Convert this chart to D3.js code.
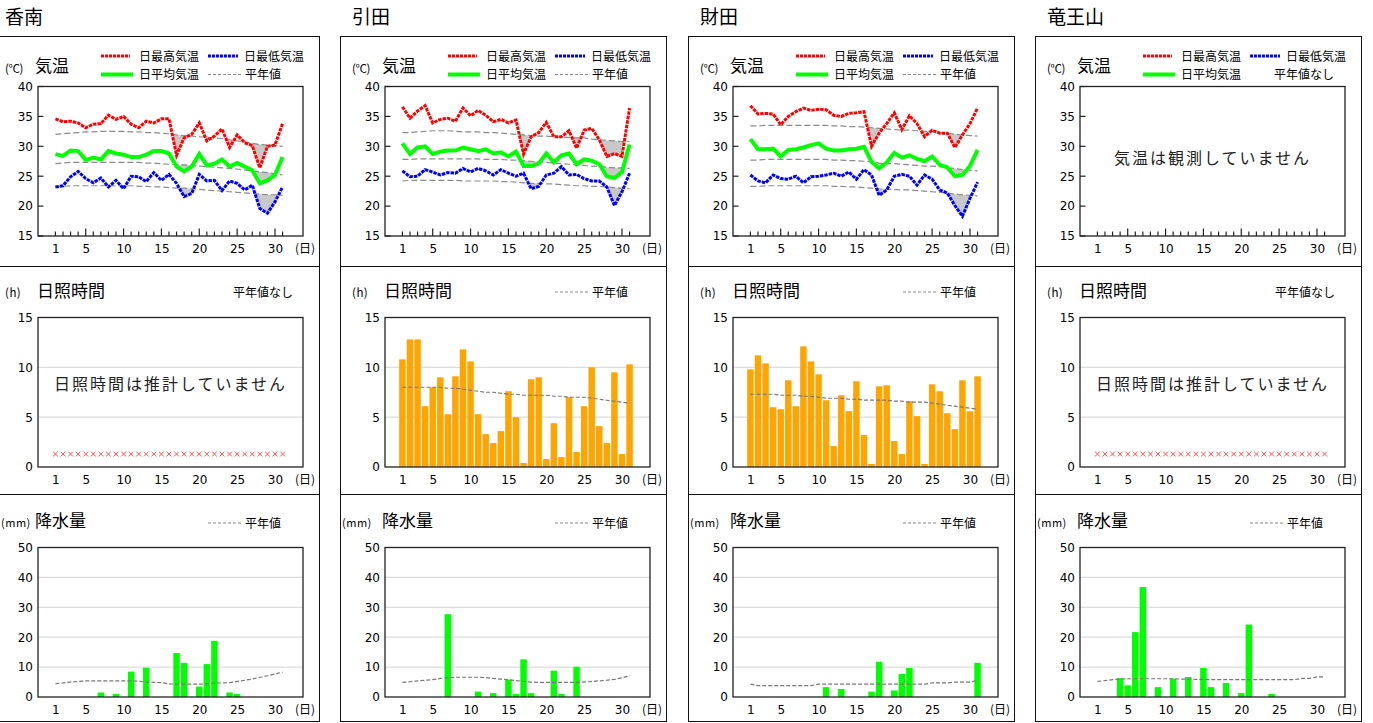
<!DOCTYPE html>
<html><head><meta charset="utf-8">
<script src="https://cdn.jsdelivr.net/npm/d3@7"></script>
<style>body{margin:0;background:#fff;} svg{display:block;}</style>
</head><body>
<svg id="chart" width="1373" height="723"></svg>
<script>
const stationNames = ["香南","引田","財田","竜王山"];
const days = d3.range(1, 32);
const dayTicks = [1,5,10,15,20,25,30];
const tempTicks = [15,20,25,30,35,40];
const sunTicks = [0,5,10,15];
const precipTicks = [0,10,20,30,40,50];

// 香南
const konanMax  = [34.6,34.1,34.2,33.9,33.1,33.7,33.8,35.2,34.5,35.0,33.7,33.1,34.2,33.9,34.6,34.6,28.5,31.4,32.0,33.9,30.9,31.7,32.9,29.8,31.9,30.6,30.1,26.4,30.0,30.2,33.8];
const konanMaxN = [32.0,32.1,32.2,32.3,32.4,32.4,32.5,32.5,32.5,32.5,32.4,32.4,32.3,32.3,32.2,32.1,31.9,31.8,31.7,31.6,31.5,31.4,31.3,31.1,30.9,30.7,30.5,30.3,30.2,30.1,30.0];
const konanAvg  = [28.7,28.4,29.3,29.2,27.7,28.1,27.8,29.2,28.8,28.6,28.2,28.2,28.6,29.2,29.2,28.8,26.6,25.8,26.6,28.7,26.8,27.1,27.8,26.6,27.2,26.6,26.0,23.8,24.3,25.2,28.2];
const konanAvgN = [27.1,27.2,27.3,27.3,27.3,27.3,27.3,27.3,27.3,27.3,27.3,27.3,27.2,27.2,27.1,27.0,26.9,26.9,26.8,26.7,26.6,26.5,26.4,26.3,26.2,26.0,25.9,25.7,25.6,25.4,25.2];
const konanMin  = [23.2,23.4,24.9,25.8,24.6,23.9,24.7,23.2,24.3,22.9,25.0,24.9,24.1,25.6,24.3,25.3,23.8,21.6,22.1,25.3,24.2,24.3,22.6,24.2,23.8,22.7,23.5,19.6,18.8,20.7,23.2];
const konanMinN = [23.2,23.3,23.4,23.4,23.4,23.4,23.4,23.4,23.4,23.4,23.4,23.3,23.3,23.2,23.2,23.1,23.0,23.0,22.9,22.8,22.7,22.6,22.5,22.4,22.3,22.2,22.1,22.0,21.9,21.9,21.8];
const konanPrecip  = [0,0,0,0,0,0,1.5,0,1.0,0,8.5,0,9.8,0,0,0,14.7,11.4,0,3.5,11.0,18.8,0,1.5,1.0,0,0,0,0,0,0];
const konanPrecipN = [4.5,4.7,5.0,5.2,5.4,5.4,5.4,5.4,5.4,5.4,5.4,5.3,5.0,4.9,4.8,4.4,4.3,4.3,4.3,4.3,4.4,4.6,4.7,4.8,5.2,5.6,6.0,6.6,7.1,7.7,8.3];

// 引田
const hiketaMax  = [36.6,34.7,35.9,36.8,33.9,34.5,34.7,34.2,36.4,35.1,36.0,35.2,34.1,34.5,33.9,34.4,28.7,31.6,32.3,34.0,31.6,31.6,32.6,29.7,32.7,33.0,31.1,28.3,28.8,28.3,36.4];
const hiketaMaxN = [32.3,32.3,32.4,32.5,32.6,32.6,32.6,32.5,32.4,32.4,32.4,32.3,32.3,32.2,32.1,32.0,31.9,31.8,31.7,31.7,31.6,31.5,31.5,31.4,31.4,31.2,31.1,31.0,30.9,30.8,30.8];
const hiketaAvg  = [30.5,28.7,29.8,30.0,28.7,29.1,29.3,29.3,29.8,29.5,29.2,29.5,28.8,29.0,28.3,29.1,26.7,26.7,27.1,28.8,27.3,28.5,28.8,27.0,27.8,27.6,27.0,25.0,24.7,25.7,30.3];
const hiketaAvgN = [27.8,27.8,27.9,27.9,27.9,27.9,27.9,27.9,27.9,27.9,27.9,27.8,27.8,27.8,27.7,27.7,27.6,27.5,27.4,27.3,27.2,27.1,27.0,26.9,26.8,26.7,26.6,26.5,26.4,26.4,26.3];
const hiketaMin  = [25.9,24.9,25.0,26.1,25.7,25.2,25.6,25.5,26.3,25.7,26.3,25.9,25.2,26.1,25.5,25.0,25.5,22.9,23.3,25.2,25.5,26.6,25.2,25.3,24.6,24.2,24.2,23.2,20.1,22.4,25.5];
const hiketaMinN = [24.2,24.3,24.3,24.3,24.3,24.3,24.3,24.3,24.2,24.2,24.2,24.2,24.2,24.1,24.1,24.0,23.9,23.8,23.8,23.7,23.7,23.6,23.5,23.4,23.4,23.3,23.3,23.2,23.1,23.0,22.9];
const hiketaSun  = [10.8,12.8,12.8,6.1,8.0,9.0,5.3,9.1,11.8,10.6,5.3,3.3,2.4,3.6,7.6,5.0,0.4,8.8,9.0,0.8,4.4,1.0,7.0,1.5,6.1,10.0,4.1,2.4,9.5,1.3,10.3];
const hiketaSunN = [8.0,8.0,8.0,8.0,8.0,8.0,7.9,7.9,7.8,7.7,7.6,7.5,7.5,7.4,7.3,7.3,7.2,7.2,7.2,7.2,7.1,7.1,7.0,7.0,7.0,6.9,6.8,6.7,6.6,6.5,6.4];
const hiketaPrecip  = [0,0,0,0,0,0,27.7,0,0,0,1.8,0,1.3,0,5.8,1.0,12.6,1.3,0,0,8.8,1.0,0,10.1,0,0,0,0,0,0,0];
const hiketaPrecipN = [4.9,5.1,5.4,5.6,5.8,6.2,6.5,6.6,6.6,6.6,6.6,6.5,6.2,6.0,5.8,5.5,5.2,5.0,4.9,4.9,4.9,4.9,4.9,4.9,5.0,5.2,5.4,5.6,5.9,6.4,7.1];

// 財田
const saitaMax  = [36.8,35.4,35.5,35.4,33.6,35.0,35.8,36.4,36.0,36.2,36.1,35.2,35.0,35.5,35.6,35.8,30.0,32.2,33.8,35.6,32.8,35.1,33.8,31.6,32.7,32.2,32.2,29.8,31.9,33.8,36.4];
const saitaMaxN = [33.4,33.4,33.5,33.5,33.5,33.5,33.5,33.5,33.5,33.5,33.5,33.4,33.4,33.3,33.3,33.2,33.1,33.0,32.9,32.8,32.7,32.7,32.6,32.5,32.5,32.3,32.2,32.0,31.9,31.8,31.7];
const saitaAvg  = [31.2,29.5,29.5,29.6,28.3,29.4,29.5,29.8,30.2,30.5,29.6,29.3,29.3,29.5,29.6,29.9,27.4,26.3,27.3,28.9,28.1,28.5,27.9,27.5,28.3,26.9,26.5,25.0,25.2,26.7,29.4];
const saitaAvgN = [27.7,27.7,27.8,27.8,27.8,27.8,27.8,27.8,27.8,27.8,27.8,27.7,27.7,27.6,27.6,27.5,27.4,27.2,27.1,27.1,27.0,26.9,26.8,26.7,26.7,26.6,26.4,26.3,26.1,26.0,25.9];
const saitaMin  = [25.2,24.2,23.9,25.2,24.6,24.5,25.0,23.9,24.9,25.0,25.2,25.5,25.0,25.7,24.5,26.1,25.2,21.8,22.7,25.0,25.3,25.0,23.5,25.2,24.5,22.7,22.2,20.1,18.3,21.3,24.0];
const saitaMinN = [23.3,23.3,23.4,23.4,23.4,23.4,23.4,23.4,23.4,23.4,23.4,23.3,23.3,23.2,23.2,23.1,23.0,22.9,22.8,22.8,22.7,22.7,22.6,22.5,22.4,22.3,22.2,22.0,21.9,21.8,21.7];
const saitaSun  = [9.8,11.2,10.4,6.0,5.8,8.7,6.1,12.1,10.6,9.3,6.7,2.1,7.2,5.6,8.6,3.2,0.3,8.1,8.2,2.6,1.3,6.6,5.1,0.3,8.3,7.6,5.4,3.8,8.7,5.6,9.1];
const saitaSunN = [7.3,7.3,7.3,7.3,7.2,7.2,7.2,7.1,7.1,7.0,6.9,6.9,6.9,6.8,6.8,6.7,6.7,6.7,6.7,6.6,6.6,6.5,6.5,6.5,6.4,6.3,6.2,6.1,6.0,5.9,5.8];
const saitaPrecip  = [0,0,0,0,0,0,0,0,0,0,3.3,0,2.7,0,0,0,1.8,11.8,0,2.2,7.7,9.7,0,0,0,0,0,0,0,0,11.4];
const saitaPrecipN = [4.3,3.8,3.8,3.8,3.8,3.8,3.8,3.8,3.8,4.3,4.3,4.3,4.3,4.3,4.3,4.3,4.3,4.3,4.3,4.3,4.3,4.3,4.3,4.3,4.7,4.7,4.7,5.0,5.0,5.0,5.5];

// 竜王山
const ryuoPrecip  = [0,0,0,6.3,3.9,21.7,36.8,0,3.3,0,6.1,0,6.7,0,9.7,3.3,0,4.7,0,1.3,24.2,0,0,1.0,0,0,0,0,0,0,0];
const ryuoPrecipN = [5.2,5.5,5.8,6.0,6.1,6.1,6.1,6.1,6.1,6.1,6.1,6.0,6.0,5.9,5.9,5.8,5.8,5.8,5.8,5.8,5.8,5.8,5.8,5.8,5.8,5.8,5.8,6.2,6.2,6.7,6.7];

const stations = [
  {name: stationNames[0], temp: {max: konanMax, maxN: konanMaxN, avg: konanAvg, avgN: konanAvgN, min: konanMin, minN: konanMinN}, sun: null, precip: {v: konanPrecip, n: konanPrecipN}},
  {name: stationNames[1], temp: {max: hiketaMax, maxN: hiketaMaxN, avg: hiketaAvg, avgN: hiketaAvgN, min: hiketaMin, minN: hiketaMinN}, sun: {v: hiketaSun, n: hiketaSunN}, precip: {v: hiketaPrecip, n: hiketaPrecipN}},
  {name: stationNames[2], temp: {max: saitaMax, maxN: saitaMaxN, avg: saitaAvg, avgN: saitaAvgN, min: saitaMin, minN: saitaMinN}, sun: {v: saitaSun, n: saitaSunN}, precip: {v: saitaPrecip, n: saitaPrecipN}},
  {name: stationNames[3], temp: null, sun: null, precip: {v: ryuoPrecip, n: ryuoPrecipN}}
];

const svg = d3.select("#chart");
const JP = "'Noto Sans CJK JP', sans-serif";
const NUM = "'DejaVu Sans', sans-serif";
const plotLefts = [38, 385, 733, 1080];
const PW = 265, PH = 149.5;
const TOP = {temp: 86.5, sun: 317.5, precip: 547.5};
const RED = "#ff0000", BLUE = "#0000ff", GREEN = "#00ff00", NORM = "#8a8a8a", SHADE = "#c8c8c8";

function belowPts(a, n) {
  const pts = [];
  for (let i = 0; i < a.length; i++) {
    pts.push({d: days[i], a: a[i], n: n[i]});
    if (i < a.length - 1) {
      const d0 = a[i] - n[i], d1 = a[i+1] - n[i+1];
      if (d0 * d1 < 0) {
        const t = d0 / (d0 - d1);
        pts.push({d: days[i] + t, a: a[i] + t*(a[i+1]-a[i]), n: n[i] + t*(n[i+1]-n[i])});
      }
    }
  }
  return pts;
}

function txt(g, x, y, s, size, opts={}) {
  return g.append("text").attr("x", x).attr("y", y).text(s)
    .attr("font-family", opts.font || JP).attr("font-size", size)
    .attr("fill", opts.fill || "#000").attr("text-anchor", opts.anchor || "start")
    .attr("letter-spacing", opts.ls || 0);
}

function legendLine(g, x1, x2, y, color, width, dash) {
  g.append("line").attr("x1", x1).attr("x2", x2).attr("y1", y).attr("y2", y)
    .attr("stroke", color).attr("stroke-width", width).attr("stroke-dasharray", dash || null);
}

function frame(g, L, top) {
  g.append("rect").attr("x", L).attr("y", top).attr("width", PW).attr("height", PH)
    .attr("fill", "none").attr("stroke", "#222").attr("stroke-width", 1.3);
}

function xAxisLabels(g, x, bottom, L) {
  const ax = d3.axisBottom(x).tickValues(dayTicks).tickSize(0).tickPadding(8).tickFormat(d3.format("d"));
  const a = g.append("g").attr("transform", `translate(0,${bottom})`).call(ax);
  a.select(".domain").remove();
  a.selectAll("text").attr("font-family", NUM).attr("font-size", 12).attr("fill", "#000");
  txt(g, L + 257, bottom + 17, "(日)", 12);
}

function yAxisLabels(g, y, L, ticks) {
  const ax = d3.axisLeft(y).tickValues(ticks).tickSize(0).tickPadding(5).tickFormat(d3.format("d"));
  const a = g.append("g").attr("transform", `translate(${L},0)`).call(ax);
  a.select(".domain").remove();
  a.selectAll("text").attr("font-family", NUM).attr("font-size", 12).attr("fill", "#000");
}

stations.forEach((st, si) => {
  const L = plotLefts[si];
  const g = svg.append("g");
  const x = d3.scaleLinear().domain([-1.3, 33.7]).range([L, L + PW]);

  // outer box and dividers
  const bx = L - 44.5;
  g.append("rect").attr("x", bx).attr("y", 36.5).attr("width", 326).attr("height", 685)
    .attr("fill", "none").attr("stroke", "#111").attr("stroke-width", 1);
  [266.5, 494.5].forEach(yy => g.append("line").attr("x1", bx).attr("x2", bx + 326)
    .attr("y1", yy).attr("y2", yy).attr("stroke", "#111").attr("stroke-width", 1));

  // station title
  txt(g, L - 33, 24, st.name, 19);

  // ---------- temperature ----------
  const yT = d3.scaleLinear().domain([15, 40]).range([TOP.temp + PH, TOP.temp]);
  txt(g, L - 33, 73, "(℃)", 11.5, {ls: -0.5});
  txt(g, L - 3, 72, "気温", 17);
  legendLine(g, L + 63, L + 92, 56, RED, 3, "3,1");
  txt(g, L + 101, 60.5, "日最高気温", 12);
  legendLine(g, L + 170, L + 200, 56, BLUE, 3, "3,1");
  txt(g, L + 206, 60.5, "日最低気温", 12);
  legendLine(g, L + 63, L + 95, 74.5, GREEN, 4);
  txt(g, L + 101, 79, "日平均気温", 12);
  if (st.temp) {
    legendLine(g, L + 170, L + 203, 74.5, NORM, 1, "3,2");
    txt(g, L + 207, 79, "平年値", 12);
  } else {
    txt(g, L + 194, 79, "平年値なし", 12);
  }

  if (st.temp) {
    const t = st.temp;
    const area = d3.area().x(p => x(p.d)).y0(p => yT(p.n)).y1(p => yT(Math.min(p.a, p.n)));
    [[t.max, t.maxN], [t.avg, t.avgN], [t.min, t.minN]].forEach(([a, n]) => {
      g.append("path").attr("d", area(belowPts(a, n))).attr("fill", SHADE).attr("stroke", "none");
    });
    const line = d3.line().x((d, i) => x(days[i])).y(d => yT(d));
    [t.maxN, t.avgN, t.minN].forEach(n => {
      g.append("path").attr("d", line(n)).attr("fill", "none").attr("stroke", NORM)
        .attr("stroke-width", 1.2).attr("stroke-dasharray", "6,3");
    });
    g.append("path").attr("d", line(t.min)).attr("fill", "none").attr("stroke", BLUE)
      .attr("stroke-width", 3).attr("stroke-dasharray", "3.5,1");
    g.append("path").attr("d", line(t.max)).attr("fill", "none").attr("stroke", RED)
      .attr("stroke-width", 3).attr("stroke-dasharray", "3.5,1");
    g.append("path").attr("d", line(t.avg)).attr("fill", "none").attr("stroke", GREEN)
      .attr("stroke-width", 4);
  } else {
    txt(g, L + PW / 2, yT(28) + 6, "気温は観測していません", 16, {anchor: "middle", fill: "#222", ls: 2});
  }
  // ticks
  days.forEach(d => {
    const len = d % 5 === 0 ? 7.5 : 4.5;
    g.append("line").attr("x1", x(d)).attr("x2", x(d)).attr("y1", yT(15)).attr("y2", yT(15) - len)
      .attr("stroke", "#222").attr("stroke-width", 1.2);
  });
  tempTicks.forEach(v => {
    g.append("line").attr("x1", L).attr("x2", L + 5.5).attr("y1", yT(v)).attr("y2", yT(v))
      .attr("stroke", "#222").attr("stroke-width", 1.2);
  });
  frame(g, L, TOP.temp);
  yAxisLabels(g, yT, L, tempTicks);
  xAxisLabels(g, x, TOP.temp + PH, L);

  // ---------- sunshine ----------
  const yS = d3.scaleLinear().domain([0, 15]).range([TOP.sun + PH, TOP.sun]);
  txt(g, L - 33, 297, "(h)", 11.5, {ls: 0.5});
  txt(g, L - 1, 297, "日照時間", 17);
  sunTicks.slice(1, -1).forEach(v => {
    g.append("line").attr("x1", L).attr("x2", L + PW).attr("y1", yS(v)).attr("y2", yS(v))
      .attr("stroke", "#dcdcdc").attr("stroke-width", 1.2);
  });
  const bw = (x(2) - x(1)) - 1.1;
  if (st.sun) {
    legendLine(g, L + 170, L + 203, 292, NORM, 1, "3,2");
    txt(g, L + 207, 297, "平年値", 12);
    g.selectAll(null).data(st.sun.v).enter().append("rect")
      .attr("x", (d, i) => x(days[i]) - bw / 2).attr("width", bw)
      .attr("y", d => yS(d)).attr("height", d => yS(0) - yS(d)).attr("fill", "#ffa500");
    const line = d3.line().x((d, i) => x(days[i])).y(d => yS(d));
    g.append("path").attr("d", line(st.sun.n)).attr("fill", "none").attr("stroke", "#777")
      .attr("stroke-width", 1.2).attr("stroke-dasharray", "4,2");
  } else {
    txt(g, L + 195, 297, "平年値なし", 12);
    txt(g, L + PW / 2, yS(8.3) + 6, "日照時間は推計していません", 16, {anchor: "middle", fill: "#222", ls: 2});
    days.forEach(d => {
      const cx = x(d), cy = yS(1.3), r = 2.4;
      g.append("path").attr("d", `M${cx-r},${cy-r}L${cx+r},${cy+r}M${cx-r},${cy+r}L${cx+r},${cy-r}`)
        .attr("stroke", "#ff5050").attr("stroke-width", 1);
    });
  }
  frame(g, L, TOP.sun);
  yAxisLabels(g, yS, L, sunTicks);
  xAxisLabels(g, x, TOP.sun + PH, L);

  // ---------- precipitation ----------
  const yP = d3.scaleLinear().domain([0, 50]).range([TOP.precip + PH, TOP.precip]);
  txt(g, Math.max(1, L - 43), 527, "(mm)", 11, {ls: 0.5});
  txt(g, L - 3, 527, "降水量", 17);
  legendLine(g, L + 170, L + 203, 523, NORM, 1, "3,2");
  txt(g, L + 207, 528, "平年値", 12);
  precipTicks.slice(1, -1).forEach(v => {
    g.append("line").attr("x1", L).attr("x2", L + PW).attr("y1", yP(v)).attr("y2", yP(v))
      .attr("stroke", "#dcdcdc").attr("stroke-width", 1.2);
  });
  g.selectAll(null).data(st.precip.v).enter().append("rect")
    .attr("x", (d, i) => x(days[i]) - bw / 2).attr("width", bw)
    .attr("y", d => yP(d)).attr("height", d => yP(0) - yP(d)).attr("fill", GREEN);
  const pline = d3.line().x((d, i) => x(days[i])).y(d => yP(d));
  g.append("path").attr("d", pline(st.precip.n)).attr("fill", "none").attr("stroke", "#777")
    .attr("stroke-width", 1.2).attr("stroke-dasharray", "4,2");
  frame(g, L, TOP.precip);
  yAxisLabels(g, yP, L, precipTicks);
  xAxisLabels(g, x, TOP.precip + PH, L);
});
</script>
</body></html>
